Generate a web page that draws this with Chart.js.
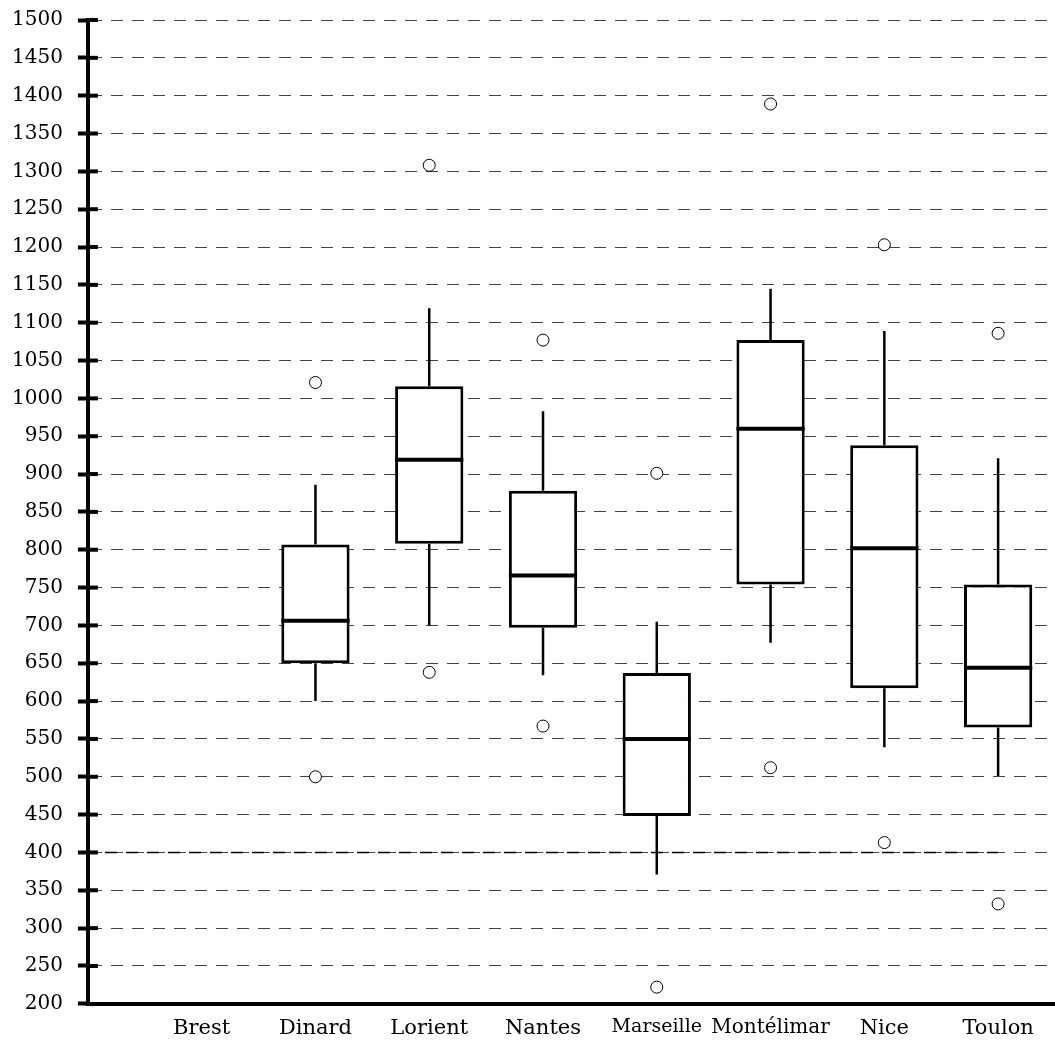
<!DOCTYPE html>
<html>
<head>
<meta charset="utf-8">
<script src="https://cdn.jsdelivr.net/npm/chart.js@4"></script>
<style>
  html, body { margin: 0; padding: 0; background: #fff; overflow: hidden; }
  #wrap { width: 1055px; height: 1045px; }
</style>
</head>
<body>
<div id="wrap"><canvas id="boxChart"></canvas></div>
<script>
    // Villes (Brest n'a pas de données)
    const labels = ["Brest", "Dinard", "Lorient", "Nantes", "Marseille", "Montélimar", "Nice", "Toulon"];

    // Statistiques des boîtes
    const whiskerLow  = [null, 600, 700, 634, 371, 677, 539, 501];
    const q1          = [null, 650, 808, 697, 448, 754, 617, 565];
    const median      = [null, 706, 919, 766, 550, 960, 802, 644];
    const q3          = [null, 807, 1016, 878, 637, 1077, 938, 754];
    const whiskerHigh = [null, 886, 1119, 983, 705, 1145, 1089, 921];

    // Valeurs aberrantes
    const outliers = [[], [1021, 500], [1308, 638], [1077, 567], [901, 222], [1389, 512], [1203, 413], [1086, 332]];

    // Ligne de référence
    const refValue = 400;

    // Axe Y
    const yMin = 200, yMax = 1500, yStep = 50;

    const boxData = [];
    labels.forEach((l, i) => {
        if (q1[i] !== null) boxData.push({ x: i, y: [q1[i], q3[i]] });
    });

    const outlierData = [];
    outliers.forEach((arr, i) => arr.forEach(v => outlierData.push({ x: i, y: v })));

    // moustaches + médianes + petits traits de l'axe
    const boxPlugin = {
        id: "boxExtras",
        beforeDatasetsDraw(chart) {
            const ctx = chart.ctx;
            const xs = chart.scales.x, ys = chart.scales.y;
            ctx.save();
            ctx.strokeStyle = "#000";
            ctx.lineWidth = 2.5;
            labels.forEach((l, i) => {
                if (q1[i] === null) return;
                const x = xs.getPixelForValue(i);
                ctx.beginPath();
                ctx.moveTo(x, ys.getPixelForValue(whiskerLow[i]));
                ctx.lineTo(x, ys.getPixelForValue(q1[i]));
                ctx.moveTo(x, ys.getPixelForValue(q3[i]));
                ctx.lineTo(x, ys.getPixelForValue(whiskerHigh[i]));
                ctx.stroke();
            });
            ctx.restore();
        },
        afterDatasetsDraw(chart) {
            const ctx = chart.ctx;
            const ys = chart.scales.y;
            const meta = chart.getDatasetMeta(1);
            ctx.save();
            ctx.strokeStyle = "#000";
            ctx.lineWidth = 4;
            meta.data.forEach((bar, k) => {
                const i = boxData[k].x;
                const y = ys.getPixelForValue(median[i]);
                ctx.beginPath();
                ctx.moveTo(bar.x - bar.width / 2, y);
                ctx.lineTo(bar.x + bar.width / 2, y);
                ctx.stroke();
            });
            // partie intérieure des graduations de l'axe Y
            const left = chart.chartArea.left;
            ys.ticks.forEach((t, idx) => {
                if (t.value === yMin) return;
                const y = ys.getPixelForTick(idx);
                ctx.beginPath();
                ctx.moveTo(left, y);
                ctx.lineTo(left + 10, y);
                ctx.stroke();
            });
            ctx.restore();
        }
    };

    const ctx = document.getElementById("boxChart").getContext("2d");
    new Chart(ctx, {
        data: {
            datasets: [
                {
                    type: "line",
                    data: [{ x: -1, y: refValue }, { x: labels.length - 1, y: refValue }],
                    borderColor: "#000",
                    borderWidth: 1.5,
                    borderDash: [12, 9],
                    borderDashOffset: 4,
                    pointRadius: 0,
                    order: 3
                },
                {
                    type: "bar",
                    data: boxData,
                    backgroundColor: "#fff",
                    borderColor: "#000",
                    borderWidth: 3,
                    borderSkipped: false,
                    barPercentage: 0.6,
                    categoryPercentage: 1,
                    order: 2
                },
                {
                    type: "scatter",
                    data: outlierData,
                    pointRadius: 6,
                    pointBackgroundColor: "#fff",
                    pointBorderColor: "#000",
                    pointBorderWidth: 1,
                    order: 1
                }
            ]
        },
        plugins: [boxPlugin],
        options: {
            responsive: true,
            maintainAspectRatio: false,
            animation: false,
            layout: { autoPadding: false, padding: { left: -3, right: 0, top: 0, bottom: -8 } },
            plugins: {
                legend: { display: false },
                tooltip: { enabled: false }
            },
            scales: {
                x: {
                    type: "linear",
                    offset: false,
                    min: -1,
                    max: labels.length - 0.5,
                    afterBuildTicks: (axis) => {
                        axis.ticks = axis.ticks.filter(t => Number.isInteger(t.value));
                    },
                    grid: { display: false, drawTicks: false, offset: false },
                    border: { display: true, color: "#000", width: 4 },
                    ticks: {
                        stepSize: 1,
                        autoSkip: false,
                        maxRotation: 0,
                        padding: 12,
                        color: "#000",
                        font: (c) => {
                            const name = labels[c.tick && c.tick.value];
                            if (name === "Marseille") return { family: "DejaVu Serif", size: 19 };
                            if (name === "Montélimar") return { family: "DejaVu Serif", size: 20 };
                            return { family: "DejaVu Serif", size: 21 };
                        },
                        callback: (v) => (labels[v] !== undefined ? labels[v] : "")
                    }
                },
                y: {
                    min: yMin,
                    max: yMax,
                    afterFit: (axis) => { axis.paddingTop = 20; },
                    grid: {
                        color: "#444",
                        lineWidth: 1,
                        tickLength: 10,
                        tickColor: "#000",
                        tickWidth: 4
                    },
                    border: { display: true, color: "#000", width: 4, dash: [12, 9] },
                    ticks: {
                        stepSize: yStep,
                        padding: 15,
                        color: "#000",
                        font: { family: "DejaVu Serif", size: 20 },
                        callback: (v) => String(v)
                    }
                }
            }
        }
    });
</script>
</body>
</html>
